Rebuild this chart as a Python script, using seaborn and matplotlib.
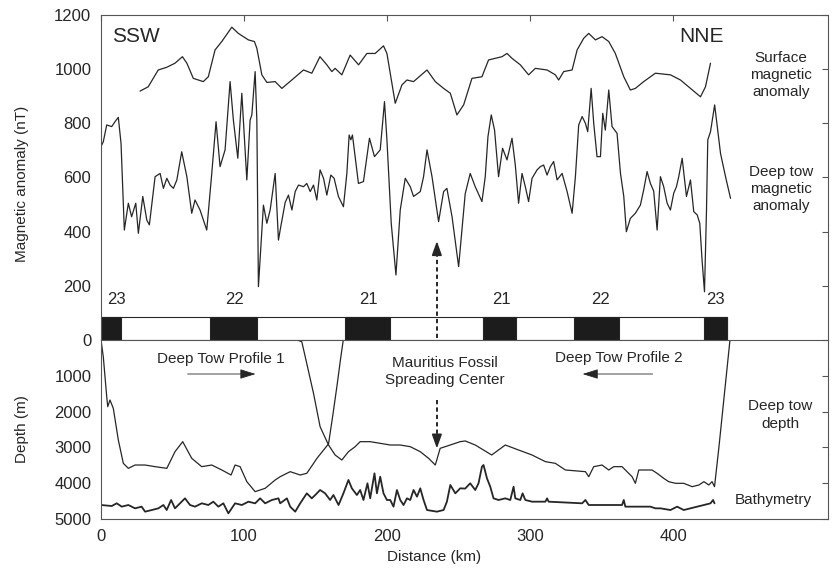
import numpy as np
import pandas as pd
import matplotlib
matplotlib.use('Agg')
import matplotlib.pyplot as plt
import seaborn as sns

# --- Surface magnetic anomaly (km, nT)
surf_km = [27.3, 33, 40, 46, 51.7, 56.9, 60, 64.5, 71.5, 75, 79.7, 84.4, 91.4, 96, 103, 107.2,
           108.9, 112.4, 115.9, 121.7, 126.4, 132, 141.5, 147.3, 153, 157.8, 161.3, 163.6, 168.3,
           174.1, 180, 185.8, 191.6, 197.4, 199.8, 205.6, 210.3, 213.8, 218.4, 227.8, 233.6,
           239.4, 244.1, 248.7, 253.4, 259.2, 266.2, 270.8, 275.5, 280.2, 283.7, 287.2, 293,
           298.8, 303.5, 311.7, 317.5, 319.8, 323.3, 329.2, 332.7, 337.3, 340.8, 345.5, 350.1,
           354.8, 359.4, 365.3, 369.9, 373.4, 379.2, 387.4, 397.9, 404.9, 411.9, 418.9, 422.4,
           425.9]
surf_nT = [919, 935, 997, 1007, 1022, 1046, 1022, 966, 954, 972, 1071, 1102, 1155, 1132, 1108, 1102,
           1077, 979, 951, 954, 929, 954, 997, 985, 1046, 1016, 991, 1003, 979,
           1052, 1016, 1058, 1058, 1086, 1058, 874, 942, 960, 954, 997, 954,
           929, 911, 831, 868, 966, 972, 1034, 1040, 1046, 1058, 1040, 1016,
           979, 1003, 997, 979, 960, 991, 997, 1071, 1114, 1132, 1108, 1120,
           1102, 1058, 972, 923, 929, 954, 985, 979, 960, 929, 898, 935,
           1022]

# --- Deep tow magnetic anomaly (km, nT)
tow_km = [0, 1.6, 4, 7.5, 9.8, 12.1, 14, 16.3, 19.1, 21.4, 24.3, 26.1, 29.2, 32, 33.8, 37.8, 41.3,
          43.6, 46, 48.3, 50.6, 53, 56.4, 60, 63.4, 65.7, 69.2, 73.9, 77.4, 80.4, 83.2, 86.7, 90.2,
          92.5, 95.6, 98.4, 101.9, 104.2, 105.4, 107.7, 108.9, 110, 113.5, 115.9, 118.2, 121.7,
          124, 125.2, 128.7, 131, 133.4, 135.7, 138, 141.5, 143.8, 146.2, 148.5, 150.8, 153.1,
          155.5, 157.8, 160.6, 162.9, 165.9, 169.4, 171.8, 173.4, 174.6, 175.7, 177.6, 179.9,
          183.4, 187.6, 191.1, 195.1, 198.1, 199.8, 202.8, 206.1, 209.1, 212.6, 216.1, 218.4,
          223.1, 225.4, 227.8, 231.3, 235.9, 239.4, 241.7, 245.3, 249.9, 254.5, 258, 261.5,
          266.2, 268.5, 270.4, 272.7, 275, 277.8, 280.6, 283.7, 287.2, 289.5, 291.8, 294.2,
          296.5, 298.8, 301.2, 304.7, 307, 309.3, 311.7, 314, 316.3, 318.7, 322.2, 325.7, 329.2,
          331.5, 333.8, 336.2, 338.5, 340.1, 342.5, 344.3, 346.6, 349, 350.6, 352.4, 354.8,
          357.1, 360.6, 363, 365.3, 367.1, 369.9, 373.4, 376.9, 379.2, 381.6, 383.9, 386.2,
          388.6, 390.9, 393.2, 395.6, 397.9, 400.2, 402.1, 403.7, 406.1, 409.1, 411.9, 414.2,
          416.6, 418.4, 420, 421.7, 423.1, 424, 425.9, 428.8, 430.6, 432.9, 436.4, 439.9]
tow_nT = [714, 732, 794, 788, 806, 822, 726, 406, 505, 455, 505, 394, 530, 443, 425, 603, 615,
          560, 597, 572, 560, 591, 695, 603, 468, 517, 480, 406, 615, 806, 640, 702, 954,
          812, 671, 911, 591, 812, 831, 991, 812, 197, 498, 431, 480, 615,
          369, 406, 508, 535, 480, 548, 572, 566, 578, 548, 572, 517, 628,
          597, 535, 609, 597, 530, 492, 615, 757, 739, 757, 677, 578,
          585, 745, 677, 702, 880, 739, 431, 240, 480, 597, 566, 530,
          548, 603, 702, 603, 437, 548, 560, 455, 271, 540, 615, 566,
          511, 603, 751, 831, 775, 603, 708, 665, 745, 646, 505, 615,
          566, 511, 597, 628, 640, 646, 609, 640, 659, 591, 615, 548, 468,
          603, 794, 825, 800, 769, 929, 800, 677, 677, 837, 775, 923,
          788, 763, 615, 530, 400, 449, 468, 498, 554, 622, 578, 550,
          406, 603, 566, 505, 480, 542, 566, 603, 671, 530, 591, 474,
          462, 431, 295, 178, 480, 739, 769, 868, 788, 689, 603, 523]

# --- Deep tow depth, profile 1 (SSW -> NNE) and profile 2 (NNE -> SSW)
p1_km = [0, 1.6, 4, 4.7, 6.3, 8.6, 12.1, 15.6, 19.1, 23.8, 30.8, 37.8, 46, 51.7, 57.1, 63.4,
         70.4, 77.4, 84.4, 90.9, 93.7, 97.2, 101.9, 107.7, 114.7, 121.7, 125.2, 132.2, 139.2,
         143.8, 151, 159, 162, 165, 167.5, 169.3]
p1_depth = [0, 466, 1583, 1862, 1676, 1909, 2793, 3445, 3585, 3492, 3492, 3538, 3585, 3120, 2840, 3305,
            3538, 3492, 3631, 3771, 3492, 3538, 3957, 4236, 4143, 3910, 3818, 3678, 3771,
            3724, 3300, 2900, 2100, 1250, 500, 0]

p2_km = [442, 439.5, 431.7, 428.7, 427, 424.7, 421.3, 417.8, 413.1, 407.2, 401.4, 396.7, 393.2,
         388.6, 385, 375.8, 373.4, 371.1, 364.1, 358.3, 354.8, 350.1, 344.3, 340.8, 338.5, 324.5,
         317.5, 310.5, 301.2, 291.8, 282.5, 273, 261.5, 254.5, 251, 244, 237, 233.6, 228.9,
         223.1, 216.1, 209.1, 202.1, 195.1, 188.1, 181.1, 177.6, 172.9, 168.3, 163.6, 159,
         153.1, 148.5, 142.7, 140.3, 136.8, 135]
p2_depth = [0, 0, 3026, 4097, 3957, 4050, 3957, 4050, 4097, 4003, 4003, 3957, 3864,
            3724, 3631, 3631, 4003, 3818, 3538, 3538, 3631, 3492, 3538, 3818, 3678, 3631,
            3445, 3398, 3212, 3073, 2933, 3212, 2933, 2820, 2840, 2933, 3026, 3492, 3305,
            3120, 2980, 2933, 2933, 2886, 2840, 2840, 2980, 3120, 3352, 3212, 2933,
            2421, 1490, 466, 47, 0, 0]

# --- Bathymetry (km, m)
bathy_km = [0, 7.5, 11, 14.5, 19.1, 23.8, 28.4, 30.8, 35.5, 40.1, 43.6, 45.9, 49, 51.7, 55.2,
            58.7, 62.2, 65.7, 70.4, 75, 78.5, 82, 85.5, 89, 93.7, 98.4, 103, 107.7, 111.2, 114.7,
            119.4, 124, 125.2, 129.9, 132.2, 135.7, 139.2, 143.8, 147.3, 149.7, 153.1, 156.6,
            160.1, 162.4, 166, 169.4, 172.9, 175.3, 178.8, 181.1, 183.4, 186.2, 188.1, 191.1,
            192.8, 195.1, 197.4, 199.8, 202.1, 204.4, 206.8, 209.1, 211.4, 213.8, 216.1, 218.4,
            220.8, 223.1, 225.4, 227.8, 234.7, 239.4, 241.7, 244.1, 247.6, 251, 254.5, 258,
            261.5, 263.8, 266.2, 267.3, 269.7, 272, 274.3, 277.8, 282.5, 286, 288.3, 289.5, 293,
            294.6, 296.5, 301.2, 310.5, 311.7, 312.8, 336.2, 338.5, 340.8, 347.8, 357.1, 364.1,
            365.3, 366.4, 375.8, 383.9, 387.4, 390.9, 397.9, 402.6, 407.2, 411.9, 416.6, 421.3,
            425.9, 427.7, 428.7]
bathy_depth = [4609, 4637, 4562, 4655, 4609, 4702, 4655, 4795, 4749, 4702, 4609, 4749, 4469, 4702, 4562,
               4423, 4609, 4655, 4562, 4609, 4516, 4655, 4562, 4842, 4562, 4609, 4516, 4562, 4423, 4562,
               4469, 4423, 4562, 4423, 4655, 4795, 4562, 4283, 4423, 4330, 4190, 4283,
               4469, 4330, 4609, 4283, 3910, 4143, 4330, 4190, 4469, 4003, 4423, 3724,
               4283, 3818, 4283, 4469, 4469, 4655, 4190, 4469, 4609, 4423, 4469, 4190,
               4376, 4143, 4469, 4749, 4795, 4749, 4516, 4050, 4283, 4143, 4150, 4003,
               4190, 4003, 3538, 3492, 3864, 4097, 4423, 4469, 4423, 4469, 4097, 4423, 4469,
               4283, 4469, 4516, 4516, 4423, 4516, 4562, 4469, 4609, 4609, 4609, 4609,
               4469, 4655, 4655, 4655, 4702, 4702, 4749, 4655, 4749, 4702, 4655, 4609,
               4562, 4469, 4562]

# --- Magnetic chrons (normal polarity blocks)
chron_start = [0, 76.2, 170.6, 266.9, 330.3, 421.7]
chron_end = [13.8, 108.9, 201.6, 290.2, 361.8, 437.5]
chron_labels = ['23', '22', '21', '21', '22', '23']
chron_label_km = [11, 93, 187, 279.5, 349, 429.4]

INK = '#262626'

sns.set_theme(style='white')
plt.rcParams['font.family'] = ['Liberation Sans', 'DejaVu Sans']
plt.rcParams['axes.edgecolor'] = '#555555'
plt.rcParams['axes.linewidth'] = 0.8
plt.rcParams['text.color'] = INK
plt.rcParams['axes.labelcolor'] = INK
plt.rcParams['xtick.color'] = '#555555'
plt.rcParams['ytick.color'] = '#555555'
plt.rcParams['xtick.labelcolor'] = INK
plt.rcParams['ytick.labelcolor'] = INK

fig = plt.figure(figsize=(8.34, 5.69), dpi=100)
ax_mag = fig.add_axes([0.1211, 0.40246, 0.8717, 0.5712])
ax_dep = fig.add_axes([0.1211, 0.08787, 0.8717, 0.31459], sharex=ax_mag)

line_kw = dict(color=INK, linewidth=0.9, sort=False, estimator=None, ax=None)

# magnetic panel
sns.lineplot(x=surf_km, y=surf_nT, color=INK, linewidth=0.9, sort=False, estimator=None, ax=ax_mag)
sns.lineplot(x=tow_km, y=tow_nT, color=INK, linewidth=0.9, sort=False, estimator=None, ax=ax_mag)

band_top = 86
ax_mag.bar(0, band_top, width=chron_end[-1], align='edge', fill=False,
           edgecolor=INK, linewidth=0.8)
ax_mag.bar(chron_start, band_top, width=np.subtract(chron_end, chron_start), align='edge',
           color='#1c1c1c', edgecolor=INK, linewidth=0.8)
for lab, km in zip(chron_labels, chron_label_km):
    ax_mag.text(km, 150, lab, ha='center', va='center', fontsize=12)

ax_mag.text(7.5, 1119, 'SSW', ha='left', va='center', fontsize=15)
ax_mag.text(419.5, 1120, 'NNE', ha='center', va='center', fontsize=15)
ax_mag.text(475, 979, 'Surface\nmagnetic\nanomaly', ha='center', va='center',
            fontsize=11, linespacing=1.3)
ax_mag.text(475, 557, 'Deep tow\nmagnetic\nanomaly', ha='center', va='center',
            fontsize=11, linespacing=1.3)

# dashed arrow up to spreading centre anomaly
sc_km = 234.7
ax_mag.plot([sc_km, sc_km], [8, 335], color=INK, linewidth=1.4, linestyle=(0, (2.2, 1.6)))
ax_mag.annotate('', xy=(sc_km, 365), xytext=(sc_km, 330),
                arrowprops=dict(arrowstyle='-|>,head_length=0.7,head_width=0.25',
                                color=INK, lw=1.2, shrinkA=0, shrinkB=0))

ax_mag.set_ylim(0, 1200)
ax_mag.set_yticks([200, 400, 600, 800, 1000, 1200])
ax_mag.spines['bottom'].set_visible(False)
ax_mag.tick_params(axis='both', direction='in', length=4, width=0.8, labelsize=12,
                   top=True, right=True, bottom=False, labelbottom=False, pad=7)
ax_mag.set_ylabel('Magnetic anomaly (nT)', fontsize=11, va='center')
ax_mag.yaxis.set_label_coords(-0.109, 0.48)

# depth panel
sns.lineplot(x=p1_km, y=p1_depth, color=INK, linewidth=0.9, sort=False, estimator=None, ax=ax_dep)
sns.lineplot(x=p2_km, y=p2_depth, color=INK, linewidth=0.9, sort=False, estimator=None, ax=ax_dep)
sns.lineplot(x=bathy_km, y=bathy_depth, color=INK, linewidth=1.3, sort=False, estimator=None, ax=ax_dep)

ax_dep.plot([sc_km, sc_km], [1680, 2750], color=INK, linewidth=1.4, linestyle=(0, (2.2, 1.6)))
ax_dep.annotate('', xy=(sc_km, 3030), xytext=(sc_km, 2700),
                arrowprops=dict(arrowstyle='-|>,head_length=0.7,head_width=0.25',
                                color=INK, lw=1.2, shrinkA=0, shrinkB=0))

ax_dep.text(84, 530, 'Deep Tow Profile 1', ha='center', va='center', fontsize=11)
ax_dep.annotate('', xy=(108, 950), xytext=(60.5, 950),
                arrowprops=dict(arrowstyle='-|>,head_length=0.8,head_width=0.25',
                                color=INK, lw=0.6, shrinkA=0, shrinkB=0))
ax_dep.text(362, 500, 'Deep Tow Profile 2', ha='center', va='center', fontsize=11)
ax_dep.annotate('', xy=(336.5, 950), xytext=(385.5, 950),
                arrowprops=dict(arrowstyle='-|>,head_length=0.8,head_width=0.25',
                                color=INK, lw=0.6, shrinkA=0, shrinkB=0))
ax_dep.text(240.5, 880, 'Mauritius Fossil\nSpreading Center', ha='center', va='center',
            fontsize=11, linespacing=1.25)
ax_dep.text(474.6, 2095, 'Deep tow\ndepth', ha='center', va='center', fontsize=11, linespacing=1.3)
ax_dep.text(470, 4469, 'Bathymetry', ha='center', va='center', fontsize=11)

ax_dep.set_xlim(0, 508)
ax_dep.set_ylim(5000, 0)
ax_dep.set_yticks([0, 1000, 2000, 3000, 4000, 5000])
ax_dep.set_xticks([0, 100, 200, 300, 400])
ax_dep.tick_params(axis='both', direction='in', length=4, width=0.8, labelsize=12,
                   top=False, right=True, pad=7)
ax_dep.set_ylabel('Depth (m)', fontsize=11, va='center')
ax_dep.yaxis.set_label_coords(-0.109, 0.5)
ax_dep.set_xlabel('Distance (km)', fontsize=11, va='center')
ax_dep.xaxis.set_label_coords(0.458, -0.212)

fig.savefig('out.png', dpi=100)
